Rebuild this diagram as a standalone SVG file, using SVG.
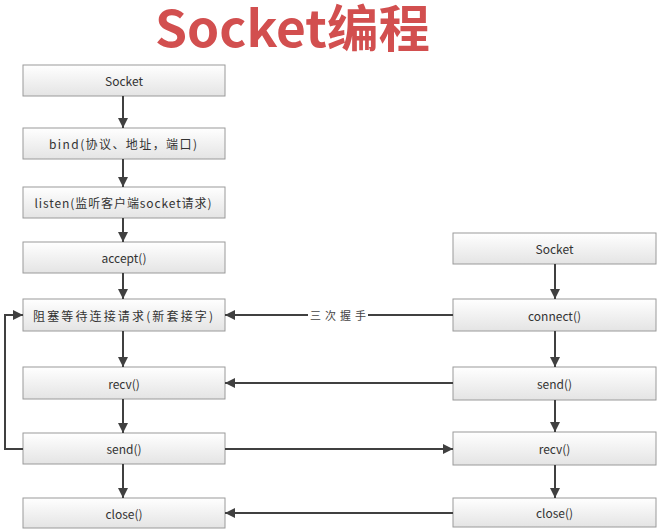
<svg xmlns="http://www.w3.org/2000/svg" width="660" height="532" viewBox="0 0 660 532">
<defs>
<linearGradient id="g" x1="0" y1="0" x2="0" y2="1">
<stop offset="0" stop-color="#ffffff"/>
<stop offset="1" stop-color="#e4e4e4"/>
</linearGradient>
<marker id="ah" viewBox="0 0 10 10" refX="10" refY="5" markerWidth="5" markerHeight="5" markerUnits="strokeWidth" orient="auto">
<path d="M0,0 L10,5 L0,10 z" fill="#404040"/>
</marker>
</defs>
<style>
.box{fill:url(#g);stroke:#9a9a9a;stroke-width:1}
.lbl{font-family:"Noto Sans CJK SC","Liberation Sans",sans-serif;font-size:12px;fill:#333;text-anchor:middle;dominant-baseline:central}
.c{fill:none;stroke:#404040;stroke-width:2;marker-end:url(#ah)}
.cn{fill:none;stroke:#404040;stroke-width:2}
.title{font-family:"Noto Sans CJK SC","Liberation Sans",sans-serif;font-size:50px;font-weight:bold;fill:#d24f4f}
</style>
<rect width="660" height="532" fill="#fff"/>
<text class="title" x="155" y="47" textLength="275" lengthAdjust="spacingAndGlyphs">Socket编程</text>

<g id="s-socket"><rect class="box" x="23" y="65" width="202" height="31"/><text class="lbl" x="124" y="80.5">Socket</text></g>
<g id="s-bind"><rect class="box" x="23" y="128" width="202" height="31"/><text class="lbl" x="123" y="143.5" textLength="148">bind(协议、地址，端口)</text></g>
<g id="s-listen"><rect class="box" x="23" y="187" width="202" height="31"/><text class="lbl" x="123" y="202.5" textLength="177">listen(监听客户端socket请求)</text></g>
<g id="s-accept"><rect class="box" x="23" y="242" width="202" height="31"/><text class="lbl" x="124" y="257.5">accept()</text></g>
<g id="s-block"><rect class="box" x="23" y="299" width="202" height="32"/><text class="lbl" x="123" y="315" textLength="180">阻塞等待连接请求(新套接字)</text></g>
<g id="s-recv"><rect class="box" x="23" y="367" width="202" height="32"/><text class="lbl" x="124" y="383">recv()</text></g>
<g id="s-send"><rect class="box" x="23" y="433" width="202" height="31"/><text class="lbl" x="124" y="448.5">send()</text></g>
<g id="s-close"><rect class="box" x="23" y="498" width="202" height="30"/><text class="lbl" x="124" y="513">close()</text></g>

<g id="c-socket"><rect class="box" x="453" y="233" width="203" height="31"/><text class="lbl" x="554.5" y="248.5">Socket</text></g>
<g id="c-connect"><rect class="box" x="453" y="299" width="203" height="32"/><text class="lbl" x="554.5" y="315">connect()</text></g>
<g id="c-send"><rect class="box" x="453" y="367" width="203" height="33"/><text class="lbl" x="554.5" y="383.5">send()</text></g>
<g id="c-recv"><rect class="box" x="453" y="432" width="203" height="33"/><text class="lbl" x="554.5" y="448.5">recv()</text></g>
<g id="c-close"><rect class="box" x="453" y="498" width="203" height="29"/><text class="lbl" x="554.5" y="512.5">close()</text></g>

<g id="connectors">
<path class="c" d="M123,96 V128"/>
<path class="c" d="M123,159 V187"/>
<path class="c" d="M123,218 V242"/>
<path class="c" d="M123,273 V299"/>
<path class="c" d="M123,331 V367"/>
<path class="c" d="M123,399 V433"/>
<path class="c" d="M123,464 V498"/>
<path class="c" d="M555,264 V299"/>
<path class="c" d="M555,331 V367"/>
<path class="c" d="M555,400 V432"/>
<path class="c" d="M555,465 V498"/>
<path class="cn" d="M453,315 H368"/>
<path class="c" d="M308,315 H225"/>
<text class="lbl" x="338" y="315" textLength="56" style="fill:#444;font-size:11px">三次握手</text>
<path class="c" d="M453,383 H225"/>
<path class="c" d="M225,449 H453"/>
<path class="c" d="M453,513 H225"/>
<path class="c" d="M23,449 H5 V315 H23"/>
</g>
</svg>
